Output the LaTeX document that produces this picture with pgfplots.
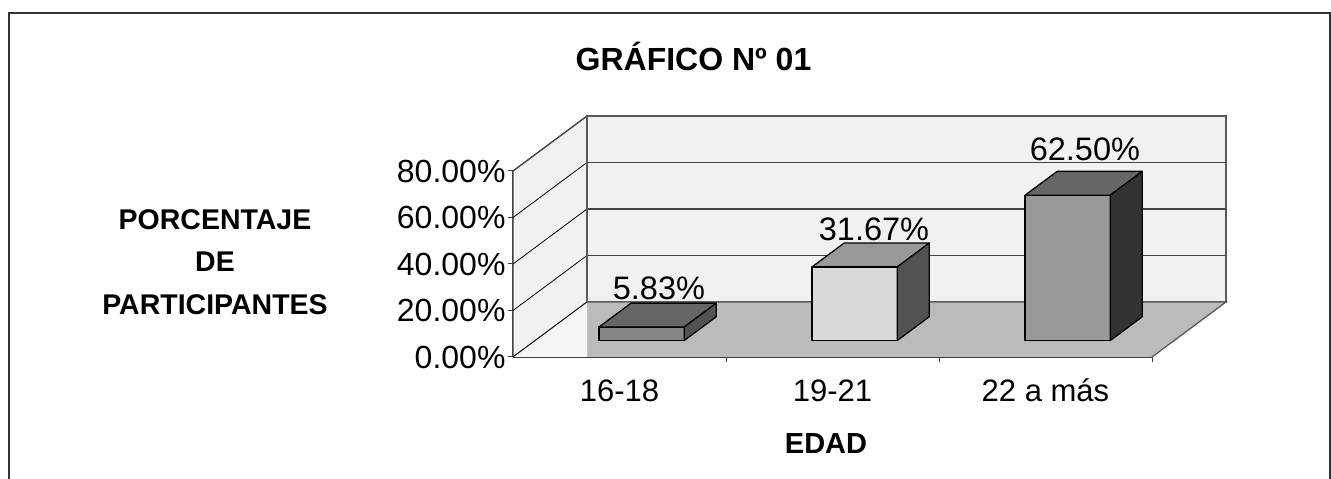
\documentclass[border=0pt]{standalone}
\usepackage{fontspec}
\setmainfont{Liberation Sans}
\usepackage{pgfplots}
\usepackage{pgfplotstable}
\pgfplotsset{compat=1.18}
\definecolor{wallc}{HTML}{F1F1F1}
\definecolor{floorc}{HTML}{BBBBBB}
\definecolor{gridc}{HTML}{444444}

\pgfplotstableread{
x v
0.5 5.83
1.5 31.67
2.5 62.50
}\data
\pgfplotstablegetelem{0}{v}\of\data\let\vA\pgfplotsretval
\pgfplotstablegetelem{1}{v}\of\data\let\vB\pgfplotsretval
\pgfplotstablegetelem{2}{v}\of\data\let\vC\pgfplotsretval

\pgfplotstableread{
u w
0 0
1 0
1 1
0 1
}\sq

% depth geometry (axis units): full depth dx=0.3474, dy=23.66
% bar front plane at 30% depth, back plane at 73.3% depth
\newcommand\barbox[5]{%
 \addplot[fill=#3, draw=black, line width=1.3pt, line join=round]
   table[x expr={#1-0.2+0.4*\thisrow{u}+0.1042}, y expr={7.10+#2*\thisrow{w}}]{\sq} -- cycle;
 \addplot[fill=#4, draw=black, line width=1.3pt, line join=round]
   table[x expr={#1-0.2+0.4*\thisrow{u}+0.1042+0.1504*\thisrow{w}}, y expr={7.10+#2+10.24*\thisrow{w}}]{\sq} -- cycle;
 \addplot[fill=#5, draw=black, line width=1.3pt, line join=round]
   table[x expr={#1+0.2+0.1042+0.1504*\thisrow{u}}, y expr={7.10+10.24*\thisrow{u}+#2*\thisrow{w}}]{\sq} -- cycle;
}

\begin{document}
\begin{tikzpicture}[x=1pt,y=1pt]
\useasboundingbox (0,0) rectangle (1331,479);
\fill[white] (0,0) rectangle (1331,479);
\draw[line width=2.2pt, color=black!80] (9,-5) -- (9,466) -- (1330,466) -- (1330,-5);

\begin{axis}[
  at={(513pt,122pt)}, anchor=south west,
  scale only axis, width=639pt, height=186pt,
  xmin=0, xmax=3, ymin=0, ymax=80,
  clip=false,
  axis x line*=bottom, axis y line*=left,
  axis line style={draw=black!75, line width=1.3pt, -},
  tick align=outside,
  tick style={draw=black!75, line width=1pt},
  xtick={1,2,3}, xticklabels={},
  major tick length=5pt,
  extra x ticks={0.5,1.5,2.5},
  extra x tick labels={16-18,19-21,22 a más},
  extra x tick style={major tick length=0pt, tick style={draw=none}},
  ytick={0,20,40,60,80},
  yticklabels={0.00\%,20.00\%,40.00\%,60.00\%,80.00\%},
  yticklabel style={font=\fontsize{32}{38}\selectfont, xshift=1pt},
  xticklabel style={font=\fontsize{31}{38}\selectfont, text height=22pt, text depth=1pt, yshift=-19pt},
]
% left wall
\addplot[fill=wallc, draw=gridc, line width=1pt] coordinates {(0,0) (0,80) (0.3474,103.66) (0.3474,23.66)} -- cycle;
% back wall
\addplot[fill=wallc, draw=black!65, line width=1.5pt] coordinates {(0.3474,23.66) (3.3474,23.66) (3.3474,103.66) (0.3474,103.66)} -- cycle;
% floor
\addplot[fill=floorc, draw=none] coordinates {(0.3474,0) (3,0) (3.3474,23.66) (0.3474,23.66)} -- cycle;
\addplot[fill=white!96!black, draw=none] coordinates {(0,0) (0.3474,23.66) (0.3474,0)} -- cycle;
\addplot[draw=black!65, line width=1.3pt] coordinates {(3,0) (3.3474,23.66) (0.3474,23.66)};
% back gridlines
\addplot[draw=gridc, line width=1.1pt] coordinates {(0.3474,43.66) (3.3474,43.66)};
\addplot[draw=gridc, line width=1.1pt] coordinates {(0.3474,63.66) (3.3474,63.66)};
\addplot[draw=gridc, line width=1.1pt] coordinates {(0.3474,83.66) (3.3474,83.66)};
% left wall gridlines
\addplot[draw=black, line width=0.8pt] coordinates {(0,0) (0.3474,23.66)};
\addplot[draw=black, line width=0.8pt] coordinates {(0,20) (0.3474,43.66)};
\addplot[draw=black, line width=0.8pt] coordinates {(0,40) (0.3474,63.66)};
\addplot[draw=black, line width=0.8pt] coordinates {(0,60) (0.3474,83.66)};
\addplot[draw=gridc, line width=1.2pt] coordinates {(0,80) (0.3474,103.66)};
\addplot[draw=black!65, line width=1.5pt] coordinates {(0.3474,23.66) (0.3474,103.66)};
% bars
\barbox{0.5}{\vA}{black!48}{black!60}{black!68}
\barbox{1.5}{\vB}{black!15}{black!40}{black!68}
\barbox{2.5}{\vC}{black!40}{black!60}{black!80}
% value labels
\node[anchor=base, font=\fontsize{32.5}{38}\selectfont] at (axis cs:0.685,24.8) {5.83\%};
\node[anchor=base, font=\fontsize{32.5}{38}\selectfont] at (axis cs:1.695,50.3) {31.67\%};
\node[anchor=base, font=\fontsize{32.5}{38}\selectfont] at (axis cs:2.685,84.3) {62.50\%};
\end{axis}

\node[font=\bfseries\fontsize{32}{38}\selectfont] at (693.5,423) {GRÁFICO Nº 01};
\node[font=\bfseries\fontsize{28.5}{42.5}\selectfont, align=center] at (215,217) {PORCENTAJE\\DE\\PARTICIPANTES};
\node[font=\bfseries\fontsize{29}{36}\selectfont] at (826,35) {EDAD};
\end{tikzpicture}
\end{document}
